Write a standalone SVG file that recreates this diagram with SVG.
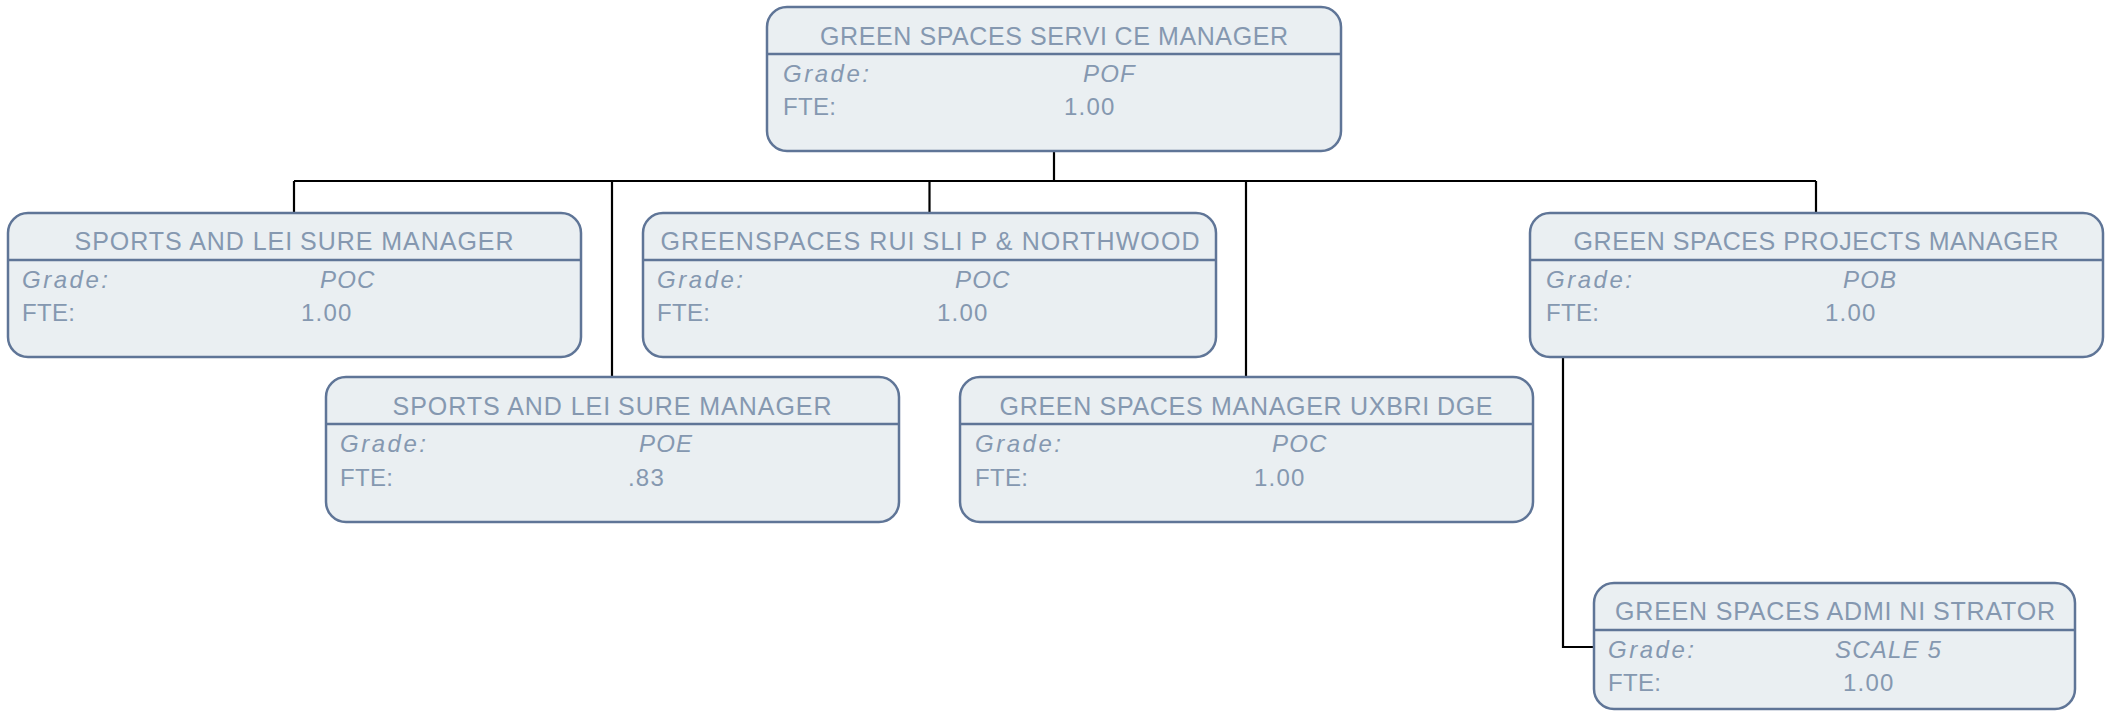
<svg xmlns="http://www.w3.org/2000/svg" width="2111" height="711" viewBox="0 0 2111 711">
<style>
.box{fill:#eaeff2;stroke:#5f7597;stroke-width:2.5}
.div{stroke:#5f7597;stroke-width:2.5}
.t{font-family:"Liberation Sans",Arial,sans-serif;fill:#8598b0}
.title{font-size:25px;text-anchor:middle}
.lab{font-size:24px}
.it{font-style:italic}
.val{font-size:24px;letter-spacing:1.2px}
.conn{fill:none;stroke:#000;stroke-width:2.2}
</style>
<rect width="2111" height="711" fill="#fff"/>
<g id="connectors">
<path class="conn" d="M1054 151V181M294 181H1816M294 181V213M612 181V377M929.5 181V213M1246 181V377M1816 181V213"/>
<path class="conn" d="M1563 357V647H1594"/>
</g>
<g id="n-top">
<rect class="box" x="767" y="7" width="574" height="144" rx="20"/>
<line class="div" x1="767" y1="54" x2="1341" y2="54"/>
<text class="t title" x="1054" y="44.5" textLength="468" lengthAdjust="spacing">GREEN SPACES SERVI<tspan dx="7">CE MANAGER</tspan></text>
<text class="t lab it" x="783" y="81.5" textLength="86" lengthAdjust="spacing">Grade:</text>
<text class="t val it" x="1083" y="81.5">POF</text>
<text class="t lab" x="783" y="115" textLength="53" lengthAdjust="spacing">FTE:</text>
<text class="t val" x="1064" y="115">1.00</text>
</g>
<g id="n-a">
<rect class="box" x="8" y="213" width="573" height="144" rx="20"/>
<line class="div" x1="8" y1="260" x2="581" y2="260"/>
<text class="t title" x="294" y="250" textLength="439" lengthAdjust="spacing">SPORTS AND LEI<tspan dx="7">SURE MANAGER</tspan></text>
<text class="t lab it" x="22" y="287.5" textLength="86" lengthAdjust="spacing">Grade:</text>
<text class="t val it" x="320" y="287.5">POC</text>
<text class="t lab" x="22" y="321" textLength="53" lengthAdjust="spacing">FTE:</text>
<text class="t val" x="301" y="321">1.00</text>
</g>
<g id="n-b">
<rect class="box" x="643" y="213" width="573" height="144" rx="20"/>
<line class="div" x1="643" y1="260" x2="1216" y2="260"/>
<text class="t title" x="930" y="250" textLength="539" lengthAdjust="spacing">GREENSPACES RUI<tspan dx="7">SLI</tspan><tspan dx="7">P &amp; NORTHWOOD</tspan></text>
<text class="t lab it" x="657" y="287.5" textLength="86" lengthAdjust="spacing">Grade:</text>
<text class="t val it" x="955" y="287.5">POC</text>
<text class="t lab" x="657" y="321" textLength="53" lengthAdjust="spacing">FTE:</text>
<text class="t val" x="937" y="321">1.00</text>
</g>
<g id="n-c">
<rect class="box" x="1530" y="213" width="573" height="144" rx="20"/>
<line class="div" x1="1530" y1="260" x2="2103" y2="260"/>
<text class="t title" x="1816" y="250" textLength="485" lengthAdjust="spacing">GREEN SPACES PROJECTS MANAGER</text>
<text class="t lab it" x="1546" y="287.5" textLength="86" lengthAdjust="spacing">Grade:</text>
<text class="t val it" x="1843" y="287.5">POB</text>
<text class="t lab" x="1546" y="321" textLength="53" lengthAdjust="spacing">FTE:</text>
<text class="t val" x="1825" y="321">1.00</text>
</g>
<g id="n-d">
<rect class="box" x="326" y="377" width="573" height="145" rx="20"/>
<line class="div" x1="326" y1="424" x2="899" y2="424"/>
<text class="t title" x="612" y="414.5" textLength="439" lengthAdjust="spacing">SPORTS AND LEI<tspan dx="7">SURE MANAGER</tspan></text>
<text class="t lab it" x="340" y="452" textLength="86" lengthAdjust="spacing">Grade:</text>
<text class="t val it" x="639" y="452">POE</text>
<text class="t lab" x="340" y="485.5" textLength="53" lengthAdjust="spacing">FTE:</text>
<text class="t val" x="628" y="485.5">.83</text>
</g>
<g id="n-e">
<rect class="box" x="960" y="377" width="573" height="145" rx="20"/>
<line class="div" x1="960" y1="424" x2="1533" y2="424"/>
<text class="t title" x="1246" y="414.5" textLength="493" lengthAdjust="spacing">GREEN SPACES MANAGER UXBRI<tspan dx="7">DGE</tspan></text>
<text class="t lab it" x="975" y="452" textLength="86" lengthAdjust="spacing">Grade:</text>
<text class="t val it" x="1272" y="452">POC</text>
<text class="t lab" x="975" y="485.5" textLength="53" lengthAdjust="spacing">FTE:</text>
<text class="t val" x="1254" y="485.5">1.00</text>
</g>
<g id="n-f">
<rect class="box" x="1594" y="583" width="481" height="126" rx="20"/>
<line class="div" x1="1594" y1="630" x2="2075" y2="630"/>
<text class="t title" x="1835" y="620" textLength="440" lengthAdjust="spacing">GREEN SPACES ADMI<tspan dx="7">NI</tspan><tspan dx="7">STRATOR</tspan></text>
<text class="t lab it" x="1608" y="657.5" textLength="86" lengthAdjust="spacing">Grade:</text>
<text class="t val it" x="1835" y="657.5">SCALE 5</text>
<text class="t lab" x="1608" y="691" textLength="53" lengthAdjust="spacing">FTE:</text>
<text class="t val" x="1843" y="691">1.00</text>
</g>
</svg>
